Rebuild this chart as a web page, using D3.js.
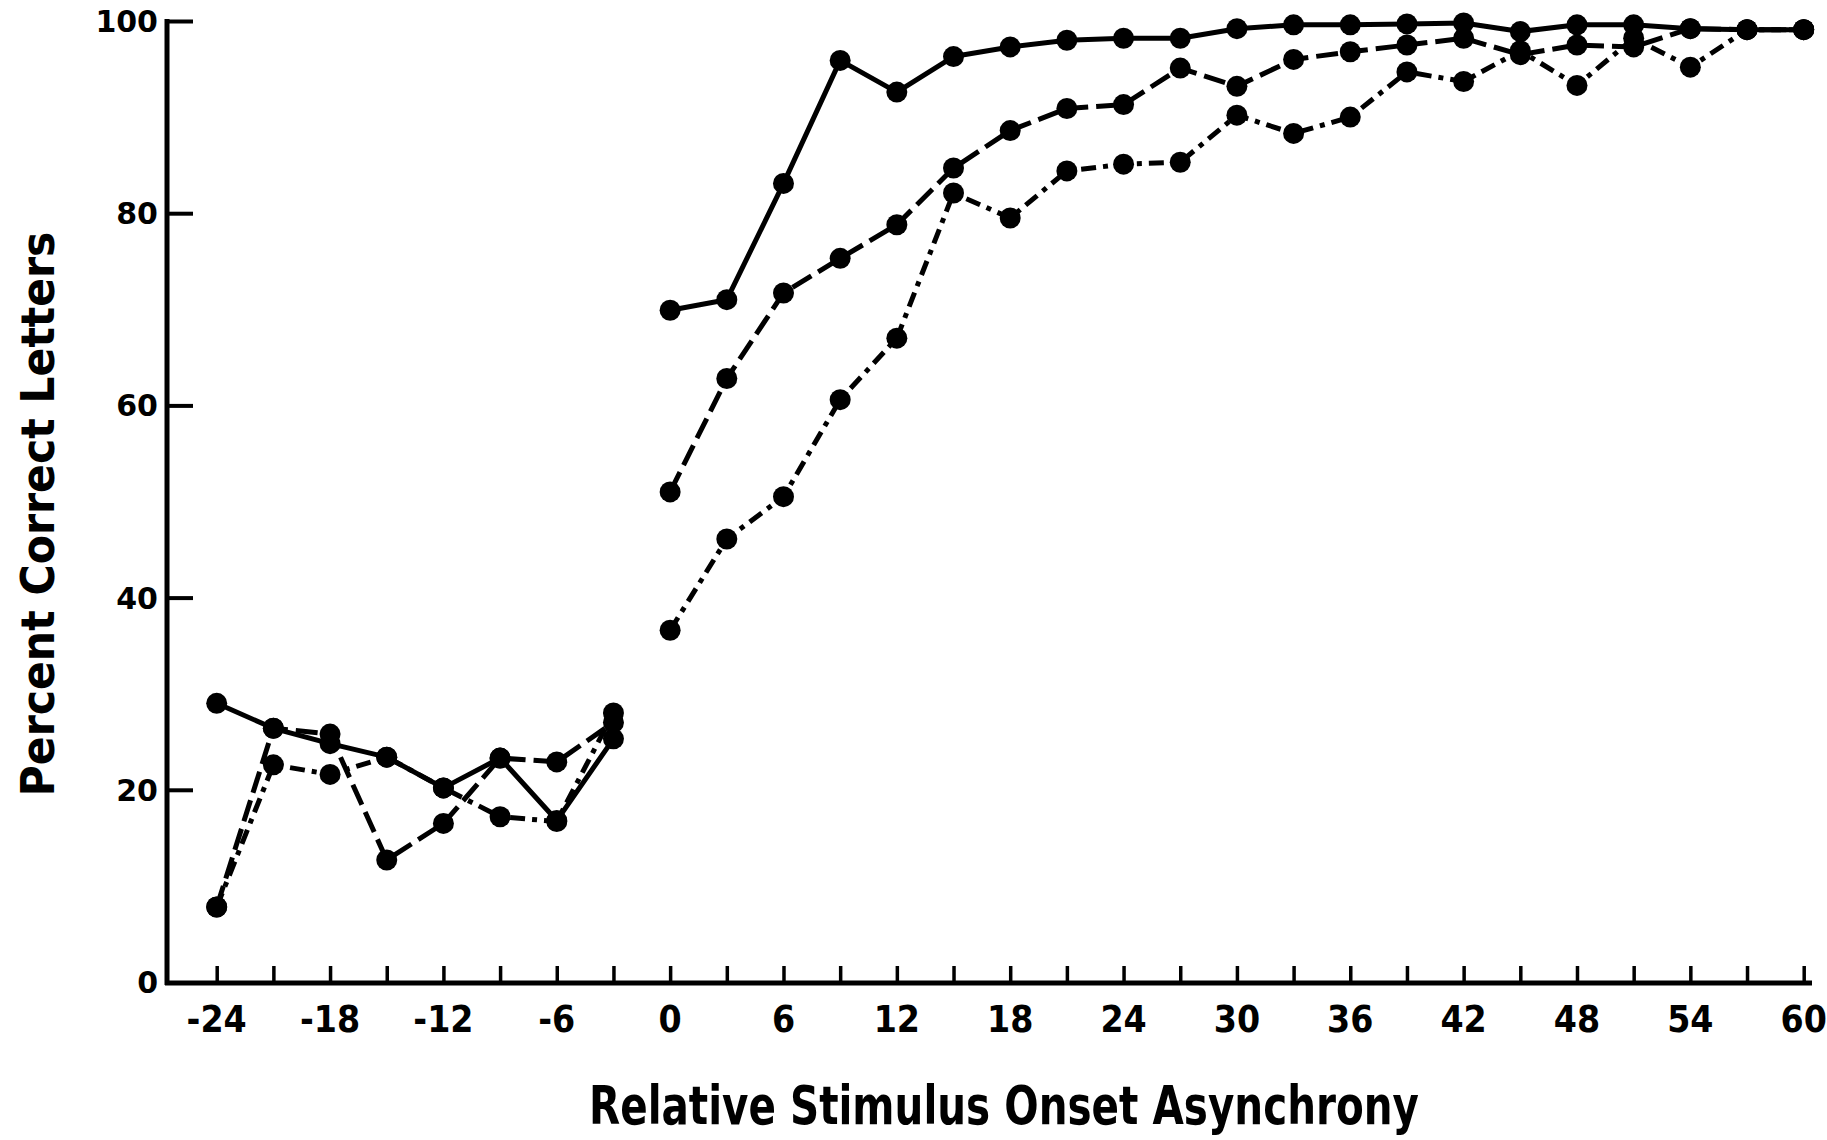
<!DOCTYPE html>
<html>
<head>
<meta charset="utf-8">
<script src="https://cdn.jsdelivr.net/npm/d3@7"></script>
<style>
  html, body { margin: 0; padding: 0; background: #ffffff; }
  svg { display: block; }
</style>
</head>
<body>
<svg id="chart" width="1827" height="1140"></svg>
<script>
// ---------------- DATA ----------------
const leftSOA  = [-24, -21, -18, -15, -12, -9, -6, -3];
const rightSOA = [0, 3, 6, 9, 12, 15, 18, 21, 24, 27, 30, 33, 36, 39, 42, 45, 48, 51, 54, 57, 60];

const solidLeft   = [29.0, 26.4, 24.8, 23.4, 20.2, 23.3, 16.8, 25.3];
const dashedLeft  = [7.8, 26.4, 25.8, 12.7, 16.5, 23.3, 22.9, 27.0];
const dotDashLeft = [7.8, 22.6, 21.6, 23.4, 20.2, 17.2, 16.7, 28.0];

const solidRight   = [69.9, 71.0, 83.1, 95.9, 92.6, 96.3, 97.3, 98.0, 98.2, 98.2, 99.2, 99.6, 99.6, 99.7, 99.8, 98.9, 99.6, 99.6, 99.2, 99.1, 99.1];
const dashedRight  = [51.0, 62.8, 71.7, 75.3, 78.8, 84.7, 88.6, 90.9, 91.3, 95.1, 93.2, 96.0, 96.8, 97.5, 98.2, 96.5, 97.5, 97.3, 99.2, 99.1, 99.1];
const dotDashRight = [36.6, 46.1, 50.5, 60.6, 67.0, 82.1, 79.5, 84.4, 85.1, 85.3, 90.2, 88.3, 90.0, 94.7, 93.7, 96.9, 93.3, 98.2, 95.2, 99.1, 99.1];

const xTickValues = [-24,-21,-18,-15,-12,-9,-6,-3,0,3,6,9,12,15,18,21,24,27,30,33,36,39,42,45,48,51,54,57,60];
const xLabelValues = [-24,-18,-12,-6,0,6,12,18,24,30,36,42,48,54,60];
const xLabelTexts  = ["-24","-18","-12","-6","0","6","12","18","24","30","36","42","48","54","60"];
const yTickValues = [20, 40, 60, 80, 100];
const yLabelValues = [0, 20, 40, 60, 80, 100];
const yLabelTexts  = ["0", "20", "40", "60", "80", "100"];

const xTitle = "Relative  Stimulus  Onset  Asynchrony";
const yTitle = "Percent  Correct  Letters";

// ---------------- LAYOUT ----------------
const svg = d3.select("#chart");
const ink = "#000000";
const x = d3.scaleLinear().domain([-24, 60]).range([216.7, 1803.7]);
const y = d3.scaleLinear().domain([0, 100]).range([982, 21]);
const axisX0 = 167, axisX1 = 1812, axisY = 983, axisTop = 19;

const narrow = "'Liberation Sans Narrow', 'DejaVu Sans Condensed', 'Arial Narrow', sans-serif";

// axes lines
svg.append("line").attr("x1", axisX0).attr("x2", axisX0).attr("y1", axisTop).attr("y2", axisY + 2)
  .attr("stroke", ink).attr("stroke-width", 5);
svg.append("line").attr("x1", axisX0 - 2).attr("x2", axisX1).attr("y1", axisY).attr("y2", axisY)
  .attr("stroke", ink).attr("stroke-width", 5);

// x ticks (pointing up, inside)
const xAxis = d3.axisBottom(x).tickValues(xTickValues).tickSize(-17).tickFormat("");
const gx = svg.append("g").attr("transform", `translate(0,${axisY})`).call(xAxis);
gx.select(".domain").remove();
gx.selectAll(".tick line").attr("stroke", ink).attr("stroke-width", 3.5);

// x labels
svg.append("g").selectAll("text").data(xLabelValues).join("text")
  .attr("x", d => x(d)).attr("y", 1032)
  .attr("text-anchor", "middle")
  .attr("font-family", narrow).attr("font-weight", "bold").attr("font-size", 37)
  .attr("fill", ink)
  .text((d, i) => xLabelTexts[i]);

// y ticks (pointing right)
const yAxis = d3.axisLeft(y).tickValues(yTickValues).tickSize(-26).tickFormat("");
const gy = svg.append("g").attr("transform", `translate(${axisX0},0)`).call(yAxis);
gy.select(".domain").remove();
gy.selectAll(".tick line").attr("stroke", ink).attr("stroke-width", 4);

// y labels
svg.append("g").selectAll("text").data(yLabelValues).join("text")
  .attr("x", 158).attr("y", d => y(d) + 11)
  .attr("text-anchor", "end")
  .attr("font-family", "'DejaVu Sans', sans-serif").attr("font-weight", "bold").attr("font-size", 30)
  .attr("fill", ink)
  .text((d, i) => yLabelTexts[i]);

// axis titles
svg.append("text")
  .attr("x", 1004).attr("y", 1124)
  .attr("text-anchor", "middle")
  .attr("font-family", narrow).attr("font-weight", "bold").attr("font-size", 54)
  .attr("textLength", 830).attr("lengthAdjust", "spacingAndGlyphs")
  .attr("fill", ink)
  .text(xTitle);

svg.append("text")
  .attr("transform", `translate(54,514) rotate(-90)`)
  .attr("text-anchor", "middle")
  .attr("font-family", narrow).attr("font-weight", "bold").attr("font-size", 46)
  .attr("textLength", 565).attr("lengthAdjust", "spacingAndGlyphs")
  .attr("fill", ink)
  .text(yTitle);

// ---------------- SERIES ----------------
const series = [
  { name: "solid",   dash: null,          left: solidLeft,   right: solidRight },
  { name: "dashed",  dash: "22,8",        left: dashedLeft,  right: dashedRight },
  { name: "dotdash", dash: "15,7,5,7",    left: dotDashLeft, right: dotDashRight }
];

const line = d3.line().x(d => x(d[0])).y(d => y(d[1]));

const gSeries = svg.append("g");
series.forEach(s => {
  [[leftSOA, s.left], [rightSOA, s.right]].forEach(([xs, vs]) => {
    const pts = xs.map((v, i) => [v, vs[i]]);
    gSeries.append("path")
      .datum(pts)
      .attr("d", line)
      .attr("fill", "none")
      .attr("stroke", ink)
      .attr("stroke-width", 5)
      .attr("stroke-dasharray", s.dash)
      .attr("stroke-linejoin", "round");
    gSeries.append("g").selectAll("circle").data(pts).join("circle")
      .attr("cx", d => x(d[0])).attr("cy", d => y(d[1])).attr("r", 10.5)
      .attr("fill", ink);
  });
});
</script>
</body>
</html>
